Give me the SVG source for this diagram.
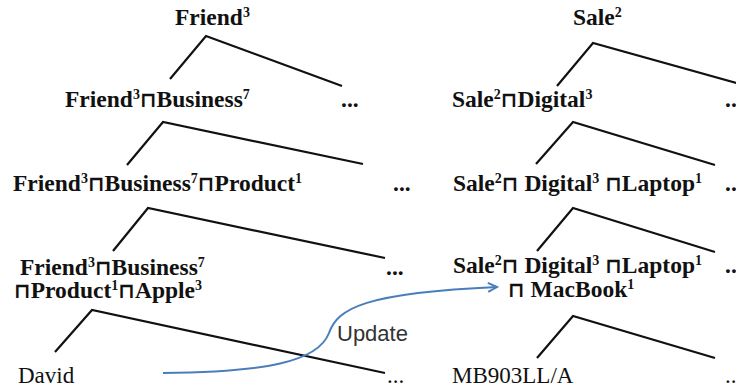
<svg xmlns="http://www.w3.org/2000/svg" width="736" height="392" viewBox="0 0 736 392">
<defs>
<style>
.b{font-family:"Liberation Serif","DejaVu Serif",serif;font-weight:bold;font-size:23.5px;fill:#111}
.r{font-family:"Liberation Serif","DejaVu Serif",serif;font-size:23px;fill:#111}
.s{font-size:14px}
.m{font-family:"DejaVu Sans",sans-serif;font-size:21px;font-weight:bold}
.u{font-family:"Liberation Sans",Arial,sans-serif;font-size:22px;fill:#333}
.t{fill:none;stroke:#111;stroke-width:2.2}
.c{fill:none;stroke:#4a7ebb;stroke-width:2}
</style>
<marker id="ah" markerWidth="12" markerHeight="12" refX="10" refY="5" orient="auto" markerUnits="userSpaceOnUse">
<path d="M1,0.5 L10,5 L1,9.5" fill="none" stroke="#4a7ebb" stroke-width="2"/>
</marker>
</defs>
<rect width="736" height="392" fill="#fff"/>
<g id="connectors">
<polyline class="t" points="170,79 206,36 342,86"/>
<polyline class="t" points="127,165 163,122 363,164"/>
<polyline class="t" points="113,251 148,208 385,258"/>
<polyline class="t" points="55,352 92,310 385,373"/>
<polyline class="t" points="557,86 593,43 740,84"/>
<polyline class="t" points="536,164 573,122 715,165"/>
<polyline class="t" points="537,251 573,208 715,252"/>
<polyline class="t" points="537,358 573,316 715,358"/>
<path class="c" d="M163,373 C265,372 318,362 329,333 C338,308 365,293 497,287" marker-end="url(#ah)"/>
</g>
<g id="friend"><text class="b" x="175" y="25">Friend<tspan class="s" dy="-8">3</tspan></text></g>
<g id="friend-business"><text class="b" x="65" y="107">Friend<tspan class="s" dy="-8">3</tspan><tspan class="m" dy="8">⊓</tspan>Business<tspan class="s" dy="-8">7</tspan></text></g>
<g id="dots1"><text class="b" x="341" y="107">...</text></g>
<g id="friend-business-product"><text class="b" x="13" y="191">Friend<tspan class="s" dy="-8">3</tspan><tspan class="m" dy="8">⊓</tspan>Business<tspan class="s" dy="-8">7</tspan><tspan class="m" dy="8">⊓</tspan>Product<tspan class="s" dy="-8">1</tspan></text></g>
<g id="dots2"><text class="b" x="393" y="191">...</text></g>
<g id="friend-apple"><text class="b" x="20" y="275">Friend<tspan class="s" dy="-8">3</tspan><tspan class="m" dy="8">⊓</tspan>Business<tspan class="s" dy="-8">7</tspan></text>
<text class="b" x="14" y="298"><tspan class="m">⊓</tspan>Product<tspan class="s" dy="-8">1</tspan><tspan class="m" dy="8">⊓</tspan>Apple<tspan class="s" dy="-8">3</tspan></text></g>
<g id="dots3"><text class="b" x="386" y="275">...</text></g>
<g id="david"><text class="r" x="18" y="383">David</text></g>
<g id="dots4"><text class="r" x="387" y="383">...</text></g>
<g id="update"><text class="u" x="337" y="341">Update</text></g>
<g id="sale"><text class="b" x="573" y="25">Sale<tspan class="s" dy="-8">2</tspan></text></g>
<g id="sale-digital"><text class="b" x="452" y="107">Sale<tspan class="s" dy="-8">2</tspan><tspan class="m" dy="8">⊓</tspan>Digital<tspan class="s" dy="-8">3</tspan></text></g>
<g id="dots5"><text class="b" x="725" y="107">...</text></g>
<g id="sale-digital-laptop"><text class="b" x="453" y="191">Sale<tspan class="s" dy="-8">2</tspan><tspan class="m" dy="8">⊓</tspan> Digital<tspan class="s" dy="-8">3</tspan><tspan dy="8"> </tspan><tspan class="m">⊓</tspan>Laptop<tspan class="s" dy="-8">1</tspan></text></g>
<g id="dots6"><text class="b" x="725" y="191">...</text></g>
<g id="sale-macbook"><text class="b" x="453" y="273">Sale<tspan class="s" dy="-8">2</tspan><tspan class="m" dy="8">⊓</tspan> Digital<tspan class="s" dy="-8">3</tspan><tspan dy="8"> </tspan><tspan class="m">⊓</tspan>Laptop<tspan class="s" dy="-8">1</tspan></text>
<text class="b" x="508" y="297"><tspan class="m">⊓</tspan> MacBook<tspan class="s" dy="-8">1</tspan></text></g>
<g id="dots7"><text class="b" x="725" y="273">...</text></g>
<g id="mb903"><text class="r" x="452" y="383">MB903LL/A</text></g>
<g id="dots8"><text class="r" x="725" y="383">...</text></g>
</svg>
